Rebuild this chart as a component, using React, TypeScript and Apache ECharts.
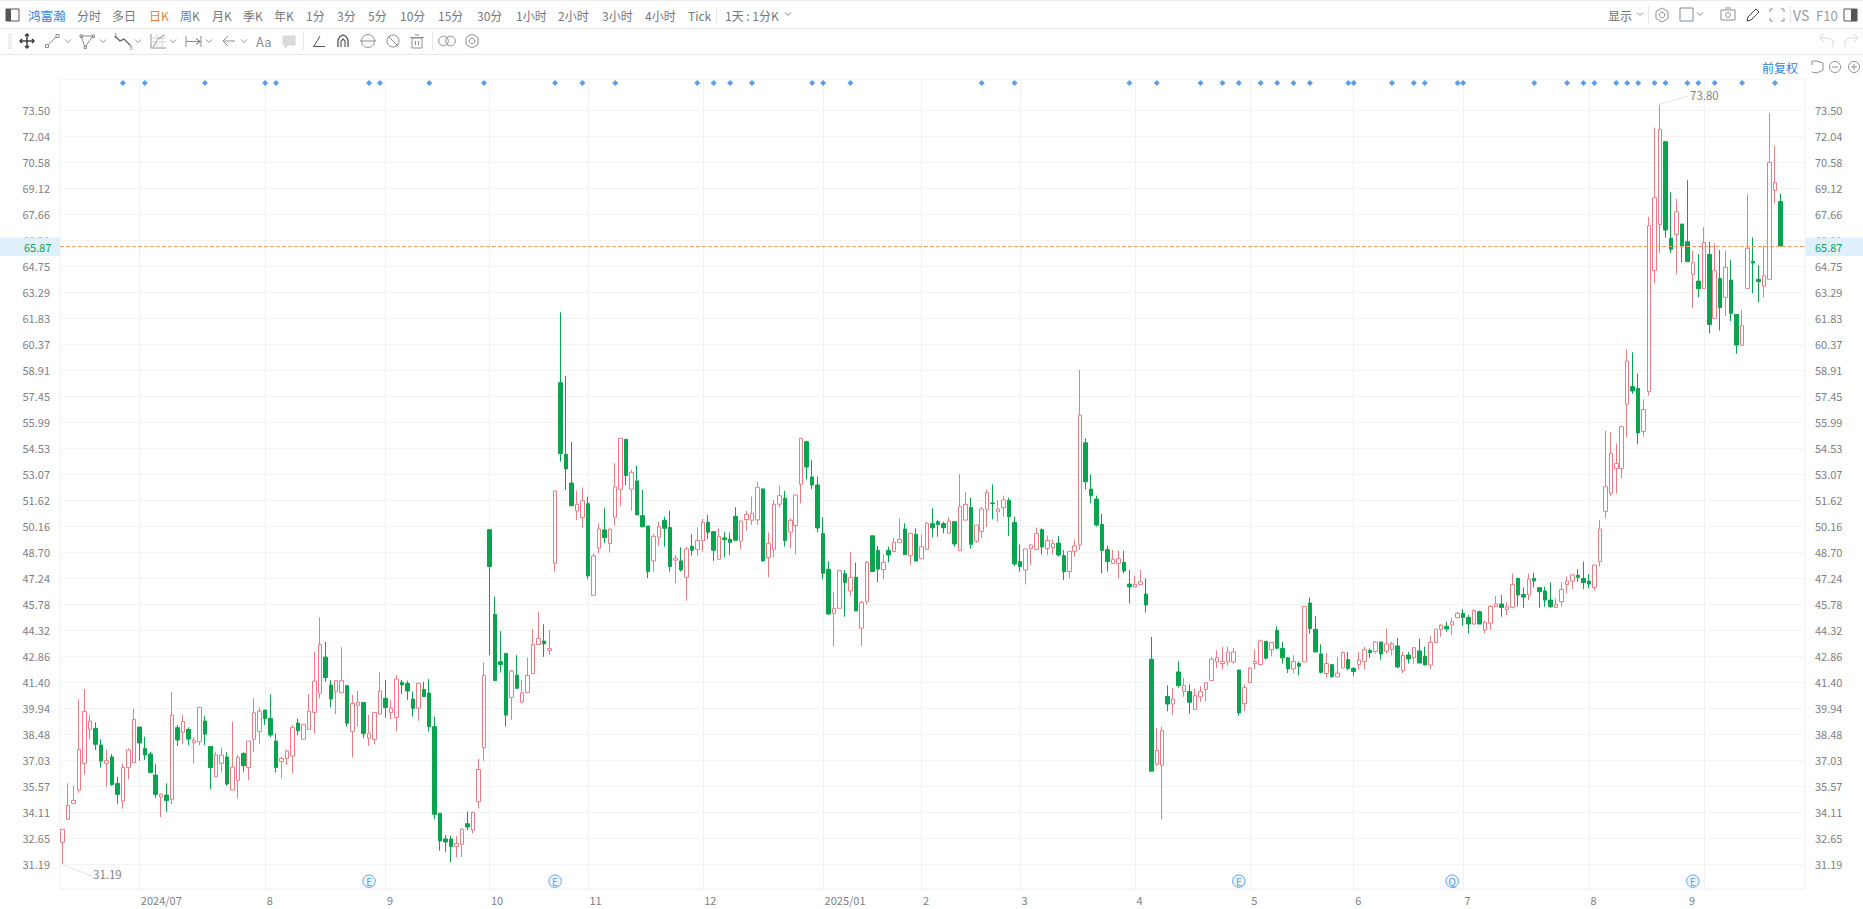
import React, { useEffect, useRef } from "react";
import * as echarts from "echarts";

// Each row: [open, close, low, high]
const jun2024 = [[32.41,33.14,31.19,33.14],[33.7,34.48,33.7,35.72],[34.58,34.76,34.58,35.59],[35.34,37.62,35.19,40.43],[36.84,39.76,36.22,41.01],[38.75,39.21,38.19,39.55],[38.8,37.91,37.59,39.14],[37.87,36.97,36.6,38.19],[36.84,36.99,35.53,37.62],[37.2,35.64,35.59,37.36],[35.72,35.1,34.58,36.09],[34.73,36.61,34.3,36.84],[36.6,37.59,35.94,37.68],[36.88,39.31,36.88,39.9]];
const jul2024 = [[38.88,37.98,36.99,38.88],[37.68,37.31,37.03,38.34],[37.36,36.32,36.32,37.49],[36.18,35.1,34.91,36.8],[34.95,35.1,33.83,35.15],[35.06,34.76,34.13,35.72],[34.82,39.55,34.56,40.86],[38.84,38.15,37.81,38.99],[38.58,39.18,37.92,39.55],[38.75,38.2,37.87,38.86],[38.0,38.13,36.84,38.3],[38.05,39.98,37.87,40.02],[39.21,38.48,37.87,39.49],[37.79,36.6,35.38,37.79],[36.09,37.31,36.09,37.49],[36.84,37.31,36.32,37.74],[37.2,35.68,35.59,37.46],[35.34,36.63,35.34,39.18],[35.89,37.18,34.88,37.31],[37.4,36.71,36.37,37.46],[36.6,38.09,35.9,38.09],[38.19,39.68,37.49,40.49],[38.62,39.77,37.92,39.98]];
const aug2024 = [[39.83,39.36,38.99,39.83],[39.36,38.43,38.3,40.71],[38.09,36.6,36.32,38.52],[36.95,37.12,36.0,37.21],[37.12,37.53,36.75,37.62],[37.25,38.86,36.28,38.99],[39.1,38.67,38.43,39.35],[38.19,39.03,38.19,39.03],[38.75,39.77,38.75,40.73],[39.7,41.46,38.52,43.1],[40.77,43.51,40.49,45.03],[42.8,41.65,41.42,43.66],[41.23,40.45,39.98,41.51],[40.86,41.48,39.6,41.48],[40.8,41.48,40.8,43.35],[41.2,39.09,38.9,41.2],[38.62,40.2,37.18,40.68],[40.1,40.26,38.9,40.9],[40.25,38.51,38.25,40.25],[38.25,38.53,37.82,39.55],[38.19,39.69,37.91,39.69],[39.61,40.9,39.61,41.95]];
const sep2024 = [[40.49,39.97,39.4,41.52],[39.69,39.93,39.31,40.4],[39.42,41.57,38.62,41.8],[41.39,41.24,40.73,41.52],[41.33,40.9,40.4,41.48],[40.45,39.93,39.46,40.86],[39.93,41.33,39.24,41.37],[40.99,40.58,40.58,41.42],[40.79,38.9,38.62,41.57],[38.9,33.98,33.7,39.46],[34.04,32.49,31.94,34.04],[32.6,32.43,31.85,32.82],[32.6,32.17,31.29,32.78],[32.17,32.35,31.55,32.77],[32.3,33.14,31.59,33.2],[33.45,33.27,33.1,34.13],[33.1,34.09,32.91,34.13],[34.69,36.5,34.31,37.08],[37.72,41.78,36.97,42.5]];
const oct2024 = [[49.95,47.89,42.92,49.95],[45.2,41.48,41.48,46.19],[42.54,42.39,41.93,44.26],[43.01,39.55,38.9,43.01],[40.54,42.02,39.27,42.08],[41.79,41.05,41.05,42.92],[40.28,40.8,40.2,41.51],[40.82,41.78,40.82,42.77],[41.87,43.51,41.87,44.37],[43.51,43.85,43.5,45.35],[43.7,43.55,42.82,44.64],[43.18,43.29,42.92,44.32],[48.07,52.13,47.6,52.13],[58.2,54.22,53.77,62.15],[54.18,53.36,52.18,58.58],[52.57,51.3,51.3,54.89],[51.0,51.38,50.5,52.14],[50.63,51.58,50.07,52.31]];
const nov2024 = [[51.41,47.36,47.17,51.8],[46.27,48.48,46.27,48.63],[48.91,49.99,48.63,50.31],[49.94,49.51,49.19,51.15],[49.17,49.99,48.68,49.99],[50.65,52.35,50.18,53.68],[52.22,55.08,51.28,55.08],[55.02,52.99,52.46,55.02],[52.22,53.17,51.02,53.3],[52.69,50.78,50.78,53.53],[50.74,50.11,50.11,52.18],[50.16,47.6,47.23,50.16],[48.2,49.58,47.6,49.69],[49.53,50.12,49.04,50.4],[50.48,50.03,49.0,50.68],[50.07,47.88,47.6,51.02],[48.24,48.35,46.94,48.53],[48.2,47.69,47.6,48.96],[47.28,48.87,45.97,49.0],[49.02,48.8,48.5,49.69],[48.85,49.34,48.5,50.07]];
const dec2024 = [[49.32,50.37,48.72,50.55],[50.37,49.81,49.43,50.78],[49.84,48.8,48.2,49.84],[48.29,49.56,48.29,50.03],[49.49,49.4,48.4,49.81],[49.41,49.24,48.53,49.79],[50.7,49.36,49.36,51.21],[49.3,50.44,48.85,50.44],[50.52,50.82,49.9,51.0],[50.48,50.87,50.22,51.81],[50.5,52.33,50.22,52.65],[52.24,48.2,48.16,52.24],[48.39,49.19,47.28,49.79],[48.85,51.38,48.4,51.62],[51.38,51.86,51.19,52.41],[51.71,49.34,49.0,52.13],[49.81,50.48,48.91,50.59],[50.18,51.9,48.57,51.9],[52.5,55.08,51.43,55.08],[54.89,53.47,52.78,54.95],[52.91,52.46,52.22,53.86],[52.46,50.05,49.81,52.93]];
const jan2025 = [[49.73,47.51,47.17,50.65],[47.73,45.22,45.2,48.19],[45.26,45.54,43.43,46.44],[45.54,47.67,45.54,47.67],[47.48,46.98,45.07,47.69],[46.51,47.28,46.25,48.7],[47.28,45.39,45.39,48.1],[44.42,45.86,43.43,45.95],[45.93,48.12,45.76,48.19],[49.61,47.6,47.6,49.61],[48.79,47.74,47.0,49.03],[47.71,48.12,47.18,48.57],[48.79,48.53,48.12,49.0],[48.72,49.24,48.72,49.5],[49.22,49.41,49.22,50.59],[49.99,48.55,48.55,50.31],[48.49,49.75,47.97,49.75],[49.69,48.19,48.19,50.03]];
const feb2025 = [[48.32,49.0,48.32,49.69],[48.85,50.31,48.81,50.4],[50.29,50.06,49.52,51.15],[50.4,50.25,49.56,50.49],[50.29,50.06,49.75,50.4],[49.75,50.44,49.75,50.64],[50.4,49.15,49.0,50.4],[48.77,51.24,48.77,53.07],[50.49,51.37,50.49,52.08],[51.19,49.13,48.89,51.75],[49.31,50.21,49.22,50.21],[49.86,51.11,49.47,51.24],[51.09,52.03,50.12,52.18],[51.45,51.42,50.53,52.49],[50.96,51.11,50.4,51.62],[51.19,51.62,50.68,51.86],[51.6,50.68,49.6,51.75],[50.36,48.03,47.91,50.68]];
const mar2025 = [[48.16,47.88,47.6,49.13],[47.69,48.87,46.88,48.87],[48.9,49.09,47.97,49.13],[48.85,49.75,48.85,50.06],[49.95,48.98,48.57,50.03],[48.9,49.35,48.53,49.61],[48.94,49.17,48.57,49.41],[49.2,48.53,48.44,49.6],[48.49,47.6,47.13,48.81],[47.6,48.74,47.22,48.74],[48.74,49.05,48.44,49.41],[49.09,56.38,48.81,58.91],[54.83,52.64,52.21,55.08],[52.23,51.86,51.43,53.06],[51.67,50.21,50.12,51.86],[50.25,48.79,47.5,50.83],[48.83,48.16,47.6,49.05],[48.06,48.29,48.06,48.81],[48.06,48.32,47.22,48.77],[48.12,47.63,47.5,48.77],[46.9,46.74,45.82,47.69]];
const apr2025 = [[46.74,46.88,46.74,47.37],[46.88,47.03,46.88,47.69],[46.34,45.73,45.3,47.22],[42.68,36.4,36.4,43.93],[36.79,37.56,36.7,38.83],[36.73,38.68,33.69,38.88],[40.59,40.17,39.76,41.22],[40.17,40.45,39.58,41.07],[41.97,41.2,41.09,42.57],[40.87,41.2,40.57,41.63],[40.87,40.27,39.63,41.28],[39.86,40.64,39.86,41.03],[40.57,40.88,40.29,41.17],[40.98,41.37,40.32,41.37],[41.48,42.68,41.48,42.81],[42.53,42.77,42.19,43.18],[42.44,42.55,42.1,43.37],[42.53,43.09,42.34,43.37],[42.53,43.09,42.44,43.32],[42.08,39.67,39.52,42.08],[40.19,41.09,39.78,41.28]];
const may2025 = [[41.37,42.18,41.37,42.25],[42.44,42.55,42.12,43.22],[42.38,43.71,42.34,43.78],[43.69,42.74,42.66,43.69],[43.22,43.62,42.85,43.65],[44.29,43.3,43.26,44.53],[43.28,42.76,42.44,43.65],[42.76,42.14,41.91,42.81],[42.14,42.55,41.91,42.9],[42.44,42.29,41.78,42.57],[42.53,45.65,42.53,45.65],[45.84,44.4,44.12,46.15],[44.36,43.09,43.09,45.09],[42.98,41.95,41.88,43.52],[41.88,42.44,41.65,43.05],[42.38,41.71,41.63,42.38],[41.69,41.91,41.69,42.81],[42.19,43.05,42.19,43.13],[42.66,42.16,42.06,43.09]];
const jun2025 = [[42.16,41.99,41.73,42.25],[42.38,42.64,42.1,43.09],[42.55,43.22,42.1,43.37],[43.17,43.05,42.76,43.28],[43.11,43.65,43.0,43.69],[43.65,42.98,42.66,43.65],[43.13,43.54,43.0,44.4],[43.22,43.56,42.9,43.65],[43.43,42.25,42.19,43.88],[42.04,42.89,41.91,43.09],[42.92,42.7,42.44,43.09],[42.77,43.33,42.44,43.33],[43.15,42.47,42.47,43.84],[42.86,42.36,42.36,43.39],[42.36,43.63,42.12,43.98],[43.61,44.36,43.61,44.36],[44.36,44.6,43.95,44.64],[44.53,44.38,44.23,44.79],[44.6,44.79,44.04,45.01],[45.01,45.26,44.98,45.35]];
const jul2025 = [[45.26,45.03,44.56,45.48],[45.03,44.66,44.13,45.16],[44.66,45.41,44.6,45.48],[45.35,44.66,44.66,45.41],[44.32,44.75,44.13,44.85],[44.7,45.65,44.32,45.72],[45.63,45.78,45.63,46.23],[45.78,45.59,45.07,46.28],[45.48,45.63,45.16,45.87],[45.59,46.88,45.54,47.5],[47.22,46.29,45.63,47.26],[46.32,46.17,45.57,46.71],[46.29,47.18,46.0,47.5],[47.22,47.07,46.71,47.54],[46.7,46.47,45.57,46.7],[46.51,46.0,45.63,46.75],[46.0,45.63,45.57,47.0],[45.59,45.76,45.59,46.1],[45.91,46.6,45.63,47.0],[46.88,47.07,46.38,47.31],[47.07,47.41,46.62,47.46],[47.39,47.28,47.03,47.73],[47.22,46.98,46.62,48.16]];
const aug2025 = [[47.07,46.9,46.66,47.46],[46.71,47.97,46.53,47.97],[48.16,49.99,47.88,50.49],[50.98,52.36,50.59,55.49],[51.99,54.23,51.86,55.41],[53.39,53.67,51.99,54.79],[53.39,55.73,52.83,55.77],[56.99,59.42,55.12,60.07],[57.98,57.73,57.57,59.9],[57.88,55.38,54.74,58.72],[55.47,56.69,55.17,57.27],[57.7,67.01,57.47,67.51],[64.5,68.58,63.77,72.5],[67.08,72.41,65.49,73.8],[71.72,66.77,66.34,71.72],[66.3,65.68,65.49,68.88],[66.52,67.79,64.28,68.5],[67.1,65.87,64.95,67.1],[66.11,64.99,64.99,69.57],[64.28,64.93,62.37,65.59],[63.9,63.47,62.99,65.42]];
const sep2025 = [[63.49,66.06,63.49,66.92],[65.4,61.47,60.97,66.11],[61.81,64.48,61.81,66.02],[64.05,62.41,61.12,65.64],[62.99,64.67,61.94,65.59],[63.96,62.09,61.66,65.08],[62.03,60.31,59.81,62.03],[60.3,61.4,60.3,62.28],[63.49,65.74,63.49,68.77],[65.01,64.91,63.21,66.35],[64.0,63.87,62.71,64.8],[63.61,64.2,62.99,65.87],[64.0,70.56,64.0,73.31],[68.99,69.42,68.26,71.5],[68.37,65.87,65.87,68.82]];

const candles = [...jun2024, ...jul2024, ...aug2024, ...sep2024, ...oct2024, ...nov2024, ...dec2024, ...jan2025, ...feb2025, ...mar2025, ...apr2025, ...may2025, ...jun2025, ...jul2025, ...aug2025, ...sep2025];

const monthFirstBars = [14, 37, 59, 78, 96, 117, 139, 157, 175, 196, 217, 236, 256, 279, 300];
const monthLabelBars = [14, 37, 59, 78, 96, 117, 139, 157, 175, 196, 217, 236, 256, 279, 297];
const monthLabels = ["2024/07", "8", "9", "10", "11", "12", "2025/01", "2", "3", "4", "5", "6", "7", "8", "9"];
const slotCount = 319;
const categories = Array.from({ length: slotCount }, (_, i) => `bar${i}`);

const priceTicks = [73.5, 72.04, 70.58, 69.12, 67.66, 66.21, 64.75, 63.29, 61.83, 60.37, 58.91, 57.45, 55.99, 54.53, 53.07, 51.62, 50.16, 48.7, 47.24, 45.78, 44.32, 42.86, 41.4, 39.94, 38.48, 37.03, 35.57, 34.11, 32.65, 31.19];
const lastPrice = 65.87;

const noticeBars = [11, 15, 26, 37, 39, 56, 58, 67, 77, 90, 95, 101, 116, 119, 122, 126, 137, 139, 144, 168, 174, 195, 200, 208, 212, 215, 219, 222, 225, 228, 235, 236, 243, 247, 249, 255, 256, 269, 275, 278, 280, 284, 286, 288, 291, 293, 297, 299, 302, 307, 313];
const noticeLevel = 75.02;
const eventBars = [56, 90, 215, 254, 298];
const eventLetters = ["E", "E", "E", "Q", "E"];
const eventLevel = 30.23;

const periodLabels = ["分时", "多日", "日K", "周K", "月K", "季K", "年K", "1分", "3分", "5分", "10分", "15分", "30分", "1小时", "2小时", "3小时", "4小时", "Tick", "1天 : 1分K"];
const periodLefts = [77, 112, 149, 180, 212, 243, 274, 306, 337, 368, 400, 438, 477, 516, 558, 602, 645, 688, 725];

const FONT = '"Noto Sans CJK SC", "Noto Sans", sans-serif';
const GRAY = "#8b8e94";
const PALE = "#d5d7da";
const BLUE = "#2e86e6";

const ln = (x1: number, y1: number, x2: number, y2: number, c = GRAY, w = 1) => ({ type: "line", shape: { x1, y1, x2, y2 }, style: { stroke: c, lineWidth: w } });
const pl = (points: number[][], c = GRAY, w = 1) => ({ type: "polyline", shape: { points }, style: { stroke: c, lineWidth: w, fill: "none" } });
const ci = (cx: number, cy: number, r: number, c = GRAY, w = 1) => ({ type: "circle", shape: { cx, cy, r }, style: { stroke: c, lineWidth: w, fill: "none" } });
const bx = (x: number, y: number, width: number, height: number, c = GRAY, fill = "none", w = 1) => ({ type: "rect", shape: { x, y, width, height }, style: { stroke: c, lineWidth: w, fill } });
const fr = (x: number, y: number, width: number, height: number, fill: string) => ({ type: "rect", shape: { x, y, width, height }, style: { fill } });
const tx = (text: string, x: number, y: number, fill = "#777a80", fontSize = 12, align = "left") => ({ type: "text", x, y, style: { text, fill, fontSize, fontFamily: FONT, align, verticalAlign: "middle" }, z: 50 });
const chev = (x: number, y: number, c = GRAY) => pl([[x - 3, y - 1.5], [x, y + 1.5], [x + 3, y - 1.5]], c);
const gear = (x: number, y: number, c = GRAY) => [
  { type: "polygon", shape: { points: [[x, y - 7], [x + 6, y - 3.5], [x + 6, y + 3.5], [x, y + 7], [x - 6, y + 3.5], [x - 6, y - 3.5]] }, style: { stroke: c, fill: "none", lineWidth: 1 } },
  ci(x, y, 2.8, c),
];

function chrome() {
  const r1 = 15;
  const r2 = 41;
  const r3 = 67;
  const els: any[] = [
    fr(0, 0, 1863, 79, "#ffffff"),
    ln(0, 0.5, 1863, 0.5, "#ececec"),
    ln(0, 28.5, 1863, 28.5, "#e8e8e8"),
    ln(0, 54.5, 1863, 54.5, "#e8e8e8"),
    // panel toggle, left
    bx(6, 9, 13, 12, "#555"),
    fr(6, 9, 5, 12, "#555"),
    tx("鸿富瀚", 28, r1, BLUE, 12.5),
    ln(716.5, 7, 716.5, 23, "#e6e6e6"),
    chev(788, r1 - 1),
  ];
  periodLabels.forEach((t, i) => els.push(tx(t, periodLefts[i], r1, t === "日K" ? "#ef7d31" : "#74777d")));
  // top row, right
  els.push(
    tx("显示", 1608, r1, "#6c6f75"),
    chev(1640, r1 - 1),
    ln(1648.5, 6, 1648.5, 24, "#e6e6e6"),
    ...gear(1662, r1),
    bx(1680, 8, 13, 13, "#7d8a99"),
    chev(1700, r1 - 1),
    bx(1721, 10, 14, 10, GRAY),
    ln(1725, 8, 1731, 8, GRAY),
    ci(1728, 15, 2.4),
    pl([[1747, 21], [1748, 17], [1756, 9], [1759, 12], [1751, 20], [1747, 21]], "#444"),
    pl([[1770, 12], [1770, 9], [1773, 9]]),
    pl([[1781, 9], [1784, 9], [1784, 12]]),
    pl([[1770, 18], [1770, 21], [1773, 21]]),
    pl([[1781, 21], [1784, 21], [1784, 18]]),
    ln(1790.5, 6, 1790.5, 24, "#e6e6e6"),
    tx("VS", 1793, r1, "#9a9da2", 14),
    tx("F10", 1816, r1, "#9a9da2", 13),
    bx(1844, 9, 13, 12, "#555"),
    fr(1851, 9, 6, 12, "#555"),
  );
  // drawing tools
  for (let i = 0; i < 10; i++) els.push(fr(8, 34 + i * 1.6, 4, 0.7, "#dcdcdc"));
  els.push(
    ln(20, r2, 34, r2, "#333", 1.4), ln(27, r2 - 7, 27, r2 + 7, "#333", 1.4),
    pl([[20 + 2, r2 - 2], [20, r2], [22, r2 + 2]], "#333", 1.4), pl([[32, r2 - 2], [34, r2], [32, r2 + 2]], "#333", 1.4),
    pl([[25, r2 - 5], [27, r2 - 7], [29, r2 - 5]], "#333", 1.4), pl([[25, r2 + 5], [27, r2 + 7], [29, r2 + 5]], "#333", 1.4),
    ln(48, 45, 56, 37), bx(45.5, 44.5, 3, 3), bx(56, 34.5, 3, 3), chev(68, r2),
    { type: "polygon", shape: { points: [[81, 36], [93, 36], [85, 47]] }, style: { stroke: GRAY, fill: "none", lineWidth: 1 } }, bx(80, 35, 2.5, 2.5), bx(92, 35, 2.5, 2.5), bx(84, 46, 2.5, 2.5), chev(103, r2),
    pl([[115, 36], [120, 41], [124, 39], [130, 45]], "#666", 1.4), tx("1", 114, 35, "#666", 6), tx("3", 129, 47, "#666", 6), chev(138, r2),
    pl([[151, 34], [151, 48], [166, 48]]), ln(151, 38, 166, 38, PALE), ln(151, 42, 166, 42, PALE), pl([[153, 47], [158, 39], [165, 35]]), ln(157, 34, 157, 48, PALE), ln(162, 34, 162, 48, PALE), chev(173, r2),
    ln(186, 36, 186, 47), ln(201, 36, 201, 47), ln(186, 41.5, 201, 41.5), pl([[196, 38.5], [200, 41.5], [196, 44.5]], "#666"), chev(209, r2),
    ln(223, r2, 235, r2), pl([[228, 36], [223, r2], [228, 46]]), chev(244, r2),
    tx("Aa", 256, r2, "#8b8e94", 13),
    { type: "polygon", shape: { points: [[283, 36], [295, 36], [295, 45], [288, 45], [285, 48], [285, 45], [283, 45]] }, style: { stroke: PALE, fill: "#d9dadc", lineWidth: 1 } },
    ln(303.5, 32, 303.5, 50, "#e6e6e6"),
    pl([[320, 36], [314, 46]], "#555"), ln(313, 46.5, 325, 46.5, "#555"),
    pl([[338, 47], [338, 40], [340, 36.5], [343, 35], [346, 36.5], [348, 40], [348, 47]], "#555", 1.3), pl([[341, 47], [341, 41], [343, 39], [345, 41], [345, 47]], "#555", 1.1),
    ci(368, r2, 6.5, GRAY), ln(360, r2, 376, r2, GRAY),
    ci(393, r2, 6), ln(388, 36, 398, 46),
    bx(412, 38, 10, 10), ln(410, 37.5, 424, 37.5), ln(415, 35, 419, 35), ln(415.5, 41, 415.5, 45), ln(418.5, 41, 418.5, 45),
    ln(432.5, 32, 432.5, 50, "#e6e6e6"),
    ci(443.5, r2, 4.8), ci(450.5, r2, 4.8),
    ...gear(472, r2),
    pl([[1820, 38], [1824, 34], [1820, 38], [1824, 42]], PALE), pl([[1820, 38], [1829, 38], [1833, 41], [1833, 47]], PALE),
    pl([[1858, 38], [1854, 34], [1858, 38], [1854, 42]], PALE), pl([[1858, 38], [1849, 38], [1845, 41], [1845, 47]], PALE),
    tx("前复权", 1762, r3, BLUE, 12),
    pl([[1812, 61], [1817, 61], [1823, 63], [1823, 70], [1817, 73], [1812, 72]]), ln(1812, 61, 1812, 65),
    ci(1835, r3, 5.5), ln(1832, r3, 1838, r3),
    ci(1854, r3, 5.5), ln(1851, r3, 1857, r3), ln(1854, r3 - 3, 1854, r3 + 3),
    // high and low labels with leaders
    ln(1660, 104, 1688, 96, "#e3e4e6"),
    tx("73.80", 1690, 95, "#7f8288", 11.5),
    ln(63, 865, 92, 876, "#e3e4e6"),
    tx("31.19", 93, 874, "#7f8288", 11.5),
    // last price flags
    { ...fr(0, 237.5, 60, 18.5, "#dff0fc"), z: 40 },
    { ...fr(1805.5, 237.5, 58, 18.5, "#dff0fc"), z: 40 },
    tx(lastPrice.toFixed(2), 24, 246.5, "#13a05a", 11),
    tx(lastPrice.toFixed(2), 1815, 246.5, "#13a05a", 11),
  );
  return els;
}

export default function App() {
  const ref = useRef<HTMLDivElement>(null);
  useEffect(() => {
    document.body.style.margin = "0";
    document.body.style.overflow = "hidden";
    const chart = echarts.init(ref.current!, null, { renderer: "svg" });
    const yAxisBase = {
      type: "value",
      min: 29.79,
      max: 75.24,
      scale: true,
      axisLine: { show: false },
      axisTick: { show: false, customValues: priceTicks },
    };
    const yLabel = { color: "#7d8086", fontSize: 11, fontFamily: FONT, customValues: priceTicks, formatter: (v: number) => v.toFixed(2), showMinLabel: true, showMaxLabel: true, hideOverlap: false };
    chart.setOption({
      animation: false,
      backgroundColor: "#ffffff",
      grid: { left: 60, top: 79, right: 58, bottom: 20, show: true, borderColor: "#eceef0", borderWidth: 1, backgroundColor: "transparent" },
      xAxis: {
        type: "category",
        data: categories,
        boundaryGap: true,
        axisLine: { show: false },
        axisTick: { show: false },
        axisLabel: {
          interval: (i: number) => monthLabelBars.includes(i),
          formatter: (_: string, i: number) => monthLabels[monthLabelBars.indexOf(i)] ?? "",
          align: "left",
          padding: [0, 0, 0, 1.5],
          margin: 5,
          color: "#7d8086",
          fontSize: 11,
          fontFamily: FONT,
          hideOverlap: false,
        },
        splitLine: { show: true, alignWithLabel: true, interval: (i: number) => monthFirstBars.includes(i), lineStyle: { color: "#f0f1f3", width: 1 } },
      },
      yAxis: [
        { ...yAxisBase, position: "left", axisLabel: { ...yLabel, margin: 10 }, splitLine: { show: true, customValues: priceTicks, lineStyle: { color: "#f2f3f5", width: 1 } } },
        { ...yAxisBase, position: "right", axisLabel: { ...yLabel, margin: 10 }, splitLine: { show: false } },
      ],
      series: [
        {
          type: "candlestick",
          data: candles,
          barWidth: 4,
          itemStyle: { color: "#ffffff", color0: "#0aa34f", borderColor: "#e97c84", borderColor0: "#0aa34f", borderWidth: 1 },
          markLine: {
            silent: true,
            symbol: "none",
            label: { show: false },
            lineStyle: { color: "#f0a06a", type: "dashed", width: 1 },
            data: [{ yAxis: lastPrice }],
          },
        },
        {
          type: "scatter",
          data: noticeBars.map((b) => [b, noticeLevel]),
          symbol: "diamond",
          symbolSize: 6,
          itemStyle: { color: BLUE },
          silent: true,
        },
        {
          type: "scatter",
          data: eventBars.map((b, i) => ({ value: [b, eventLevel], name: eventLetters[i] })),
          symbol: "circle",
          symbolSize: 12.5,
          itemStyle: { color: "#e6f1fd", borderColor: "#3d92ea", borderWidth: 1 },
          label: { show: true, position: "inside", formatter: (p: any) => p.name, color: "#2e86e6", fontSize: 10, fontFamily: FONT },
          silent: true,
        },
      ],
      graphic: { elements: chrome() },
    });
    return () => chart.dispose();
  }, []);
  return <div ref={ref} style={{ width: 1863, height: 909 }} />;
}
